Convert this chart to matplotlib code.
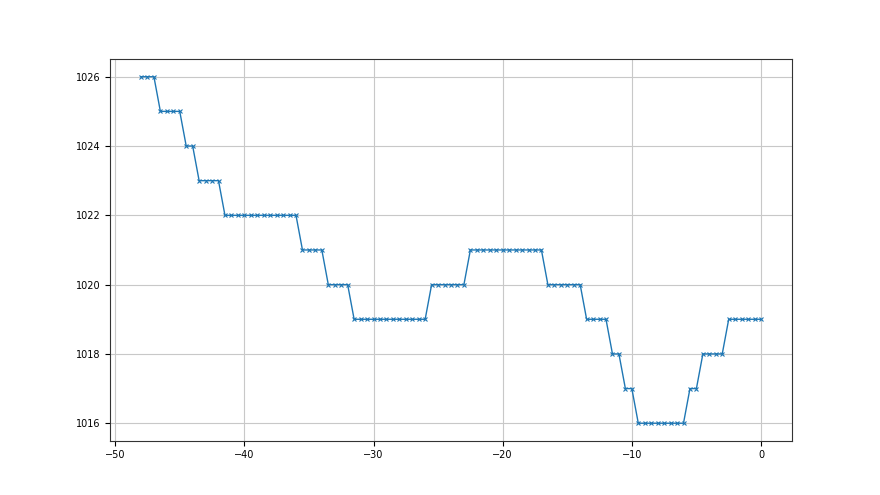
import numpy as np
import matplotlib
matplotlib.use("Agg")
import matplotlib.pyplot as plt

# pressure levels and how many half-hour samples stay at each level
levels = [1026, 1025, 1024, 1023, 1022, 1021, 1020, 1019, 1020, 1021,
          1020, 1019, 1018, 1017, 1016, 1017, 1018, 1019]
counts = [3, 4, 2, 4, 12, 4, 4, 12, 6, 12, 6, 4, 2, 2, 8, 2, 4, 6]

pressure = np.repeat(levels, counts)
hours = np.arange(-48, 0.01, 0.5)

plt.rcParams['font.size'] = 7

fig, ax = plt.subplots(figsize=(8.8, 4.95), dpi=100)
ax.plot(hours, pressure, marker='x', markersize=3.5, markeredgewidth=0.8,
        linewidth=1, color='tab:blue')
ax.grid(True, color='#c8c8c8', linewidth=0.8)
ax.set_axisbelow(True)
for s in ax.spines.values():
    s.set_color('#333333')

plt.savefig('out.png', dpi=100)
